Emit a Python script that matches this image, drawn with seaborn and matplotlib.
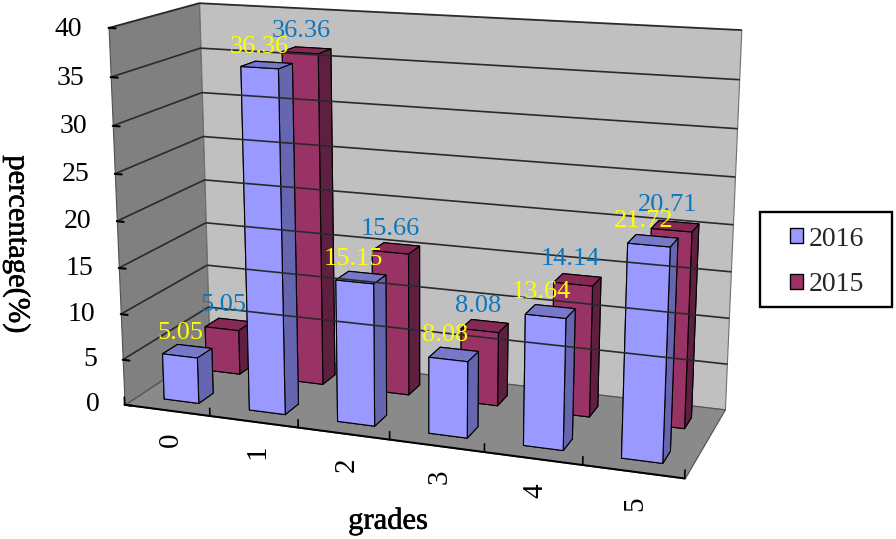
import numpy as np
import matplotlib
matplotlib.use("Agg")
import matplotlib.pyplot as plt
import matplotlib.patheffects as pe
import seaborn as sns
from matplotlib.patches import Patch, Rectangle
from mpl_toolkits.mplot3d.art3d import Poly3DCollection

sns.set_theme(style="white")
plt.rcParams['font.family'] = ['Liberation Serif', 'DejaVu Serif']

grades = ['0', '1', '2', '3', '4', '5']
v2016 = [5.05, 36.36, 15.15, 8.08, 13.64, 21.72]
v2015 = [5.05, 36.36, 15.66, 8.08, 14.14, 20.71]
zticks = [0, 5, 10, 15, 20, 25, 30, 35, 40]

W, H, S = 896, 539, 1000.0
cx, cy = 410.25, 302.52
fig = plt.figure(figsize=(W/100, H/100), dpi=100)
ax = fig.add_axes([(cx-S/2)/W, (cy-S/2)/H, S/W, S/H], projection='3d', computed_zorder=False)
nx, zmax = len(grades), zticks[-1]
ax.set_xlim(0, nx, view_margin=0)
ax.set_ylim(0, 1, view_margin=0)
ax.set_zlim(0, zmax, view_margin=0)
ax.set_axis_off()
ax.view_init(elev=14.317, azim=-70.1665, roll=-0.0119)
ax.set_proj_type('persp', focal_length=0.33901)
ax.set_box_aspect((2.9758, 1.0, 1.9866), zoom=0.70793)
ax.apply_aspect()

def place(x, y, z):
    """Figure-fraction position of a data point."""
    h = ax.get_proj() @ np.array([x, y, z, 1.0])
    return fig.transFigure.inverted().transform(ax.transData.transform(h[:2] / h[3]))

# walls and floor
ax.add_collection3d(Poly3DCollection([[(0, 0, 0), (0, 1, 0), (0, 1, zmax), (0, 0, zmax)]],
                                     facecolor='#808080', edgecolor='#505050', lw=.8))
ax.add_collection3d(Poly3DCollection([[(0, 1, 0), (nx, 1, 0), (nx, 1, zmax), (0, 1, zmax)]],
                                     facecolor='#c0c0c0', edgecolor='#707070', lw=.8))
ax.add_collection3d(Poly3DCollection([[(0, 0, 0), (nx, 0, 0), (nx, 1, 0), (0, 1, 0)]],
                                     facecolor='#8a8a8a', edgecolor='#505050', lw=.8))
for z in zticks[1:]:
    ax.plot([0, 0, nx], [0, 1, 1], [z, z, z], color='#2a2a2a', lw=1.2)
for z in zticks:
    ax.plot([0, .08], [0, 0], [z, z], color='black', lw=1.5)
ax.plot([0, nx], [0, 0], [0, 0], color='black', lw=1.4)
for i in range(nx + 1):
    ax.plot([i, i], [0, 0], [0, .85], color='black', lw=1.2)

COL16 = ['#7f7fd0', '#7878c8', '#9999ff', '#7878c8', '#9999ff', '#6666b0']
COL15 = ['#6b2347', '#862a55', '#993366', '#862a55', '#993366', '#5f1f40']
for i in range(nx):
    ax.bar3d(i+.31, .65, 0, .41, .17, v2015[i], color=COL15, shade=False, edgecolor='black', linewidth=.8)
    ax.bar3d(i+.31, .15, 0, .41, .17, v2016[i], color=COL16, shade=False, edgecolor='black', linewidth=.8)

for i in range(nx):
    px, py = place(i+.42, .77, v2015[i]+1.9)
    fig.text(px, py, f"{v2015[i]:.2f}", color='#0a78c0', fontsize=19, ha='center', va='center')
    px, py = place(i+.40, .27, v2016[i]+1.7)
    fig.text(px, py, f"{v2016[i]:.2f}", color='#ffff00', fontsize=19, ha='center', va='center')
    px, py = place(i+.53, 0, -3.3)
    fig.text(px, py, grades[i], rotation=90, color='black', fontsize=21, ha='center', va='center')
for z in zticks:
    px, py = place(-.3, 0, z-.3)
    fig.text(px, py, str(z), color='black', fontsize=20, ha='right', va='center')

heavy = [pe.withStroke(linewidth=.4, foreground='black')]
fig.text(17/W, 1-244/H, 'percentage(%)', rotation=-90, color='black', fontsize=22, ha='center', va='center', path_effects=heavy)
fig.text(388/W, 1-521/H, 'grades', color='black', fontsize=22, ha='center', va='center', path_effects=heavy)

fig.add_artist(Rectangle((760/W, 1-307/H), 132/W, 95/H, transform=fig.transFigure,
                         facecolor='white', edgecolor='black', lw=1.7))
leg = fig.legend(handles=[Patch(fc='#9999ff', ec='black', label='2016'),
                          Patch(fc='#993366', ec='black', label='2015')],
                 loc='center', bbox_to_anchor=(827/W, 1-262/H), fontsize=20, frameon=False,
                 handlelength=.47, handleheight=.47, handletextpad=.2, labelspacing=.75,
                 borderpad=0, borderaxespad=0)
fig.savefig('out.png', dpi=100)
